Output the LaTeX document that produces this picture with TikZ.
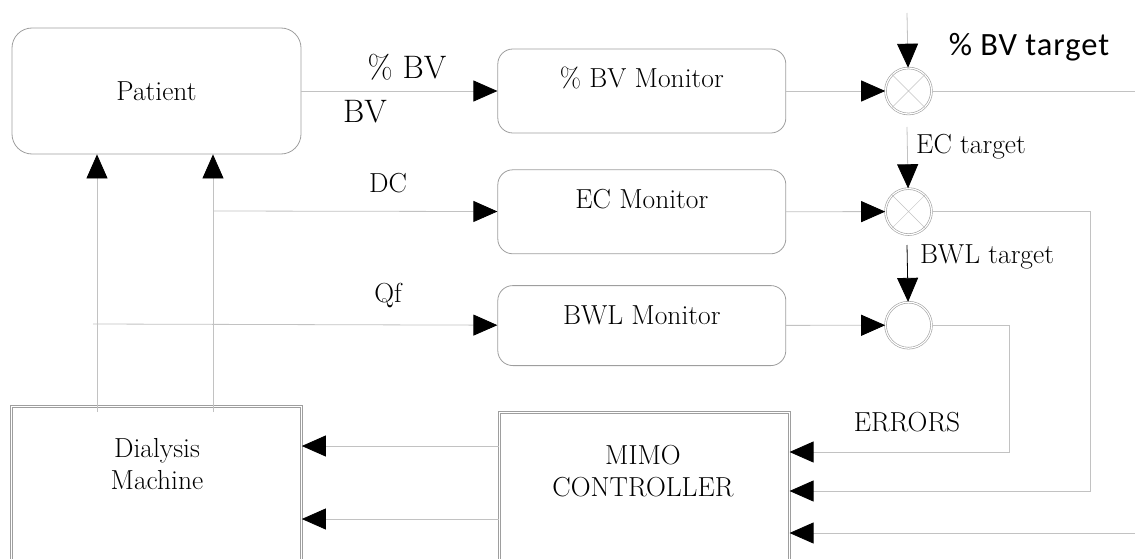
\documentclass[tikz,border=0pt]{standalone}
\usepackage{fontspec}
\newfontfamily\tgtfont[LetterSpace=3]{Carlito}
\usetikzlibrary{graphs,positioning,arrows.meta}
\definecolor{boxgray}{gray}{0.62}
\definecolor{linegray}{gray}{0.76}
\tikzset{
    patient/.style ={
        shape=rectangle,
        rounded corners=20pt,
        draw=boxgray,
        line width=0.8pt,
        minimum width=289pt,
        minimum height=126pt
    },
    monitor/.style ={
        shape=rectangle,
        rounded corners=15pt,
        draw=boxgray,
        line width=0.8pt,
        minimum width=288pt,
        minimum height=84pt,
        inner ysep=0pt,
        text height=39pt,
        text depth=45pt
    },
    sum/.style ={
        shape=circle,
        draw=boxgray,
        line width=0.6pt,
        double,
        double distance=1.2pt,
        minimum size=46pt,
        inner sep=0pt
    },
    machine/.style ={
        shape=rectangle,
        draw=boxgray,
        line width=0.7pt,
        double,
        double distance=1.3pt,
        minimum width=290pt,
        minimum height=200pt
    },
    conn/.style ={
        draw=linegray,
        line width=0.8pt
    },
    biglabel/.style ={
        font=\fontsize{32.5}{38}\selectfont
    },
    tgt/.style ={
        font=\tgtfont\fontsize{32.5}{38}\selectfont
    }
}

\begin{document}
\begin{tikzpicture}[x=1pt,y=-1pt,>={Triangle[length=24pt,width=21pt,black]},
    every node/.style={font=\fontsize{27.5}{32}\selectfont}]
    \useasboundingbox (0,0) rectangle (1135,559);
    \clip (0,0) rectangle (1135,559);
    \node[patient] (patient) at (156.5,91) {Patient};
    \node[monitor,right=196pt of patient] (bvmon) {\% BV Monitor};
    \node[monitor,below=36pt of bvmon] (ecmon) {EC Monitor};
    \node[monitor,below=31pt of ecmon,minimum height=80pt,text depth=41pt] (bwlmon) {BWL Monitor};
    \node[sum,right=99pt of bvmon] (s1) {};
    \node[sum,below=74pt of s1] (s2) {};
    \node[sum,below=67pt of s2] (s3) {};
    \node[machine,below=252pt of patient] (dial) {};
    \node[machine,right=197pt of dial,yshift=-6pt] (mimo) {};
    \node[align=center] (dialtext) at (157,464) {Dialysis\\Machine};
    \node[align=center] (mimotext) at (643,471) {MIMO\\CONTROLLER};
    % labels
    \node[biglabel] (pbv) at (407,67) {\% BV};
    \node[biglabel] (bv) at (365,112) {BV};
    \node (dclab) at (388,183) {DC};
    \node (qflab) at (388,296) {Qf};
    \node[tgt] (bvtgt) at (1029,47) {\% BV target};
    \node (ectgt) at (971,147) {EC target};
    \node (bwltgt) at (987,257) {BWL target};
    \node (errors) at (907,422) {ERRORS};
    % crosses in the first two sums
    \draw[linegray,line width=0.5pt] (s1.north west) -- (s1.south east) (s1.north east) -- (s1.south west);
    \draw[linegray,line width=0.5pt] (s2.north west) -- (s2.south east) (s2.north east) -- (s2.south west);
    \begin{scope}[linegray,line width=0.8pt]
        \graph{
            (patient)->(bvmon)->(s1);
            (ecmon)->(s2);
            (bwlmon)->(s3);
        };
    \end{scope}
    \coordinate (up1) at (97,412);
    \coordinate (up2) at (213,412);
    \coordinate (dc) at (213,211);
    \coordinate (qf) at (93,324);
    \draw[conn,->] (up1) -- (up1 |- patient.south);
    \draw[conn,->] (up2) -- (up2 |- patient.south);
    \draw[conn,->] (dc) -- (ecmon);
    \draw[conn,->] (qf) -- (bwlmon);
    \coordinate (t1) at (907,13);
    \coordinate (t2) at (907,127);
    \coordinate (t3) at (907,245);
    \draw[conn,->] (t1) -- (s1);
    \draw[conn,->] (t2) -- (s2);
    \draw[black,line width=0.8pt,->] (t3) -- (s3);
    \coordinate (o1) at (1135,91);
    \coordinate (o2) at (1090,491);
    \coordinate (o3) at (1009,452);
    \coordinate (o4) at (1135,533);
    \draw[conn] (s1) -- (o1);
    \draw[conn,->] (s2) -| (o2) -- (o2 -| mimo.east);
    \draw[conn,->] (s3) -| (o3) -- (o3 -| mimo.east);
    \draw[conn,->] (o4) -- (o4 -| mimo.east);
    \coordinate (c1) at (499,446);
    \coordinate (c2) at (499,519);
    \draw[conn,->] (c1 -| mimo.west) -- (c1 -| dial.east);
    \draw[conn,->] (c2 -| mimo.west) -- (c2 -| dial.east);
\end{tikzpicture}
\end{document}
